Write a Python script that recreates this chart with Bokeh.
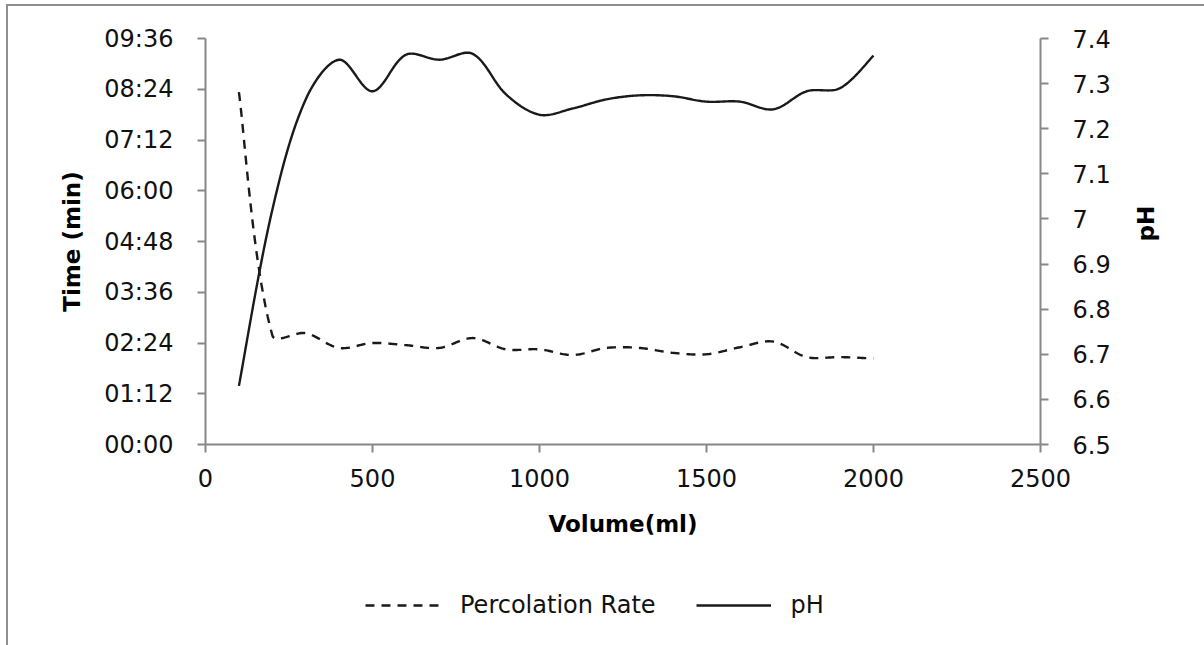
import math

from bokeh.plotting import figure
from bokeh.layouts import column
from bokeh.models import Range1d, LinearAxis, FixedTicker, Legend, LegendItem
from bokeh.embed import file_html
from bokeh.resources import INLINE

# Sampled volumes (ml)
volume_ml = [100, 200, 300, 400, 500, 600, 700, 800, 900, 1000,
             1100, 1200, 1300, 1400, 1500, 1600, 1700, 1800, 1900, 2000]

# Percolation time per sample, in seconds (shown as mm:ss)
percolation_s = [500, 155, 158, 137, 144, 141, 137, 151, 135, 135,
                 127, 137, 137, 130, 128, 138, 146, 124, 124, 122]

# pH of the percolate
ph_values = [6.63, 7.02, 7.265, 7.353, 7.283, 7.364, 7.353, 7.366, 7.276, 7.231,
             7.245, 7.265, 7.274, 7.272, 7.260, 7.260, 7.243, 7.283, 7.290, 7.362]

volume_ticks = [0, 500, 1000, 1500, 2000, 2500]
time_ticks_s = [0, 72, 144, 216, 288, 360, 432, 504, 576]
time_tick_labels = ["00:00", "01:12", "02:24", "03:36", "04:48",
                    "06:00", "07:12", "08:24", "09:36"]
ph_ticks = [6.5, 6.6, 6.7, 6.8, 6.9, 7.0, 7.1, 7.2, 7.3, 7.4]
ph_tick_labels = ["6.5", "6.6", "6.7", "6.8", "6.9", "7", "7.1", "7.2", "7.3", "7.4"]

FRAME_W, FRAME_H = 835, 400
X_RANGE = (0, 2500)
TIME_RANGE = (0, 576)
PH_RANGE = (6.5, 7.4)


def smooth(xs, ys, y_range, steps=24):
    """Smoothed line through the points: cubic Bezier segments whose control
    arms are scaled by neighbouring chord lengths (measured on screen)."""
    kx = FRAME_W / (X_RANGE[1] - X_RANGE[0])
    ky = FRAME_H / (y_range[1] - y_range[0])
    pts = [(x * kx, y * ky) for x, y in zip(xs, ys)]
    n = len(pts)

    def dist(a, b):
        return ((a[0] - b[0]) ** 2 + (a[1] - b[1]) ** 2) ** 0.5

    def controls(i):
        p = pts[i]
        prev = pts[i - 1] if i > 0 else p
        nxt = pts[i + 1] if i < n - 1 else p
        dx, dy = nxt[0] - prev[0], nxt[1] - prev[1]
        l_in, l_out = dist(p, prev), dist(p, nxt)
        tot = l_in + l_out
        if tot == 0:
            return p, p
        f_in, f_out = l_in / tot / 3.0, l_out / tot / 3.0
        if i == 0 or i == n - 1:
            f_in, f_out = f_in / 2.0, f_out / 2.0
        return ((p[0] - dx * f_in, p[1] - dy * f_in),
                (p[0] + dx * f_out, p[1] + dy * f_out))

    out_x, out_y = [], []
    for i in range(n - 1):
        p1, p2 = pts[i], pts[i + 1]
        c1 = controls(i)[1]
        c2 = controls(i + 1)[0]
        last = steps + 1 if i == n - 2 else steps
        for k in range(last):
            t = k / steps
            a = (1 - t) ** 3
            b = 3 * (1 - t) ** 2 * t
            c = 3 * (1 - t) * t ** 2
            d = t ** 3
            out_x.append((a * p1[0] + b * c1[0] + c * c2[0] + d * p2[0]) / kx)
            out_y.append((a * p1[1] + b * c1[1] + c * c2[1] + d * p2[1]) / ky)
    return out_x, out_y


FONT = "DejaVu Sans"
AXIS_GREY = "#878787"
LINE_COL = "#1a1a1a"
TEXT_COL = "#111111"

# ---- main chart -------------------------------------------------------------
p = figure(
    width=1196, height=560,
    x_range=Range1d(*X_RANGE), y_range=Range1d(*TIME_RANGE),
    output_backend="svg", toolbar_location=None,
    min_border_left=197, min_border_right=164,
    min_border_top=32, min_border_bottom=122,
    x_axis_location=None, y_axis_location=None,
)
p.outline_line_color = None
p.xgrid.visible = False
p.ygrid.visible = False
p.extra_y_ranges = {"ph": Range1d(*PH_RANGE)}


def style_axis(ax):
    ax.axis_line_color = AXIS_GREY
    ax.axis_line_width = 2
    ax.major_tick_line_color = AXIS_GREY
    ax.major_tick_line_width = 2
    ax.major_tick_out = 8
    ax.major_tick_in = 0
    ax.minor_tick_line_color = None
    ax.major_label_text_font = FONT
    ax.major_label_text_font_size = "24px"
    ax.major_label_text_color = TEXT_COL
    ax.axis_label_text_font = FONT
    ax.axis_label_text_font_size = "23px"
    ax.axis_label_text_font_style = "bold"
    ax.axis_label_text_color = "black"


x_axis = LinearAxis(axis_label="Volume(ml)", ticker=FixedTicker(ticks=volume_ticks))
style_axis(x_axis)
x_axis.major_label_standoff = 16
x_axis.axis_label_standoff = 21
p.add_layout(x_axis, "below")

y_axis = LinearAxis(axis_label="Time (min)", ticker=FixedTicker(ticks=time_ticks_s))
y_axis.major_label_overrides = {t: s for t, s in zip(time_ticks_s, time_tick_labels)}
style_axis(y_axis)
y_axis.major_label_standoff = 24
y_axis.axis_label_standoff = 16
p.add_layout(y_axis, "left")

ph_axis = LinearAxis(axis_label="pH", y_range_name="ph", ticker=FixedTicker(ticks=ph_ticks))
ph_axis.major_label_overrides = {t: s for t, s in zip(ph_ticks, ph_tick_labels)}
style_axis(ph_axis)
ph_axis.major_label_standoff = 24
ph_axis.axis_label_standoff = 32
ph_axis.axis_label_orientation = math.pi / 2
p.add_layout(ph_axis, "right")

sx, sy = smooth(volume_ml, percolation_s, TIME_RANGE)
p.line(sx, sy, line_color=LINE_COL, line_width=2.4, line_dash="9 7")

hx, hy = smooth(volume_ml, ph_values, PH_RANGE)
p.line(hx, hy, line_color=LINE_COL, line_width=2.4, y_range_name="ph")

# ---- legend strip under the chart --------------------------------------------
leg = figure(
    width=1196, height=79,
    x_range=Range1d(*X_RANGE), y_range=Range1d(*TIME_RANGE),
    output_backend="svg", toolbar_location=None,
    min_border=0, x_axis_location=None, y_axis_location=None,
)
leg.outline_line_color = None
leg.xgrid.visible = False
leg.ygrid.visible = False
rate_key = leg.line(volume_ml, percolation_s, line_color=LINE_COL, line_width=2.4,
                    line_dash="9 7", visible=False)
ph_key = leg.line(volume_ml, ph_values, line_color=LINE_COL, line_width=2.4, visible=False)

legend = Legend(
    items=[LegendItem(label="Percolation Rate", renderers=[rate_key]),
           LegendItem(label="pH", renderers=[ph_key])],
    orientation="horizontal",
    location=(160, 26),
    glyph_width=75, glyph_height=24,
    label_standoff=20, spacing=40,
    padding=0, margin=0,
    border_line_alpha=0, background_fill_alpha=0,
    inactive_fill_alpha=0,
    label_text_font=FONT, label_text_font_size="24px", label_text_color=TEXT_COL,
)
leg.add_layout(legend, "center")

page = column(
    p, leg, spacing=0,
    margin=(4, 0, 0, 6),
    styles={"border-left": "2px solid #8f8f8f", "border-top": "2px solid #8f8f8f"},
)

open("out.html", "w").write(file_html(page, INLINE))
